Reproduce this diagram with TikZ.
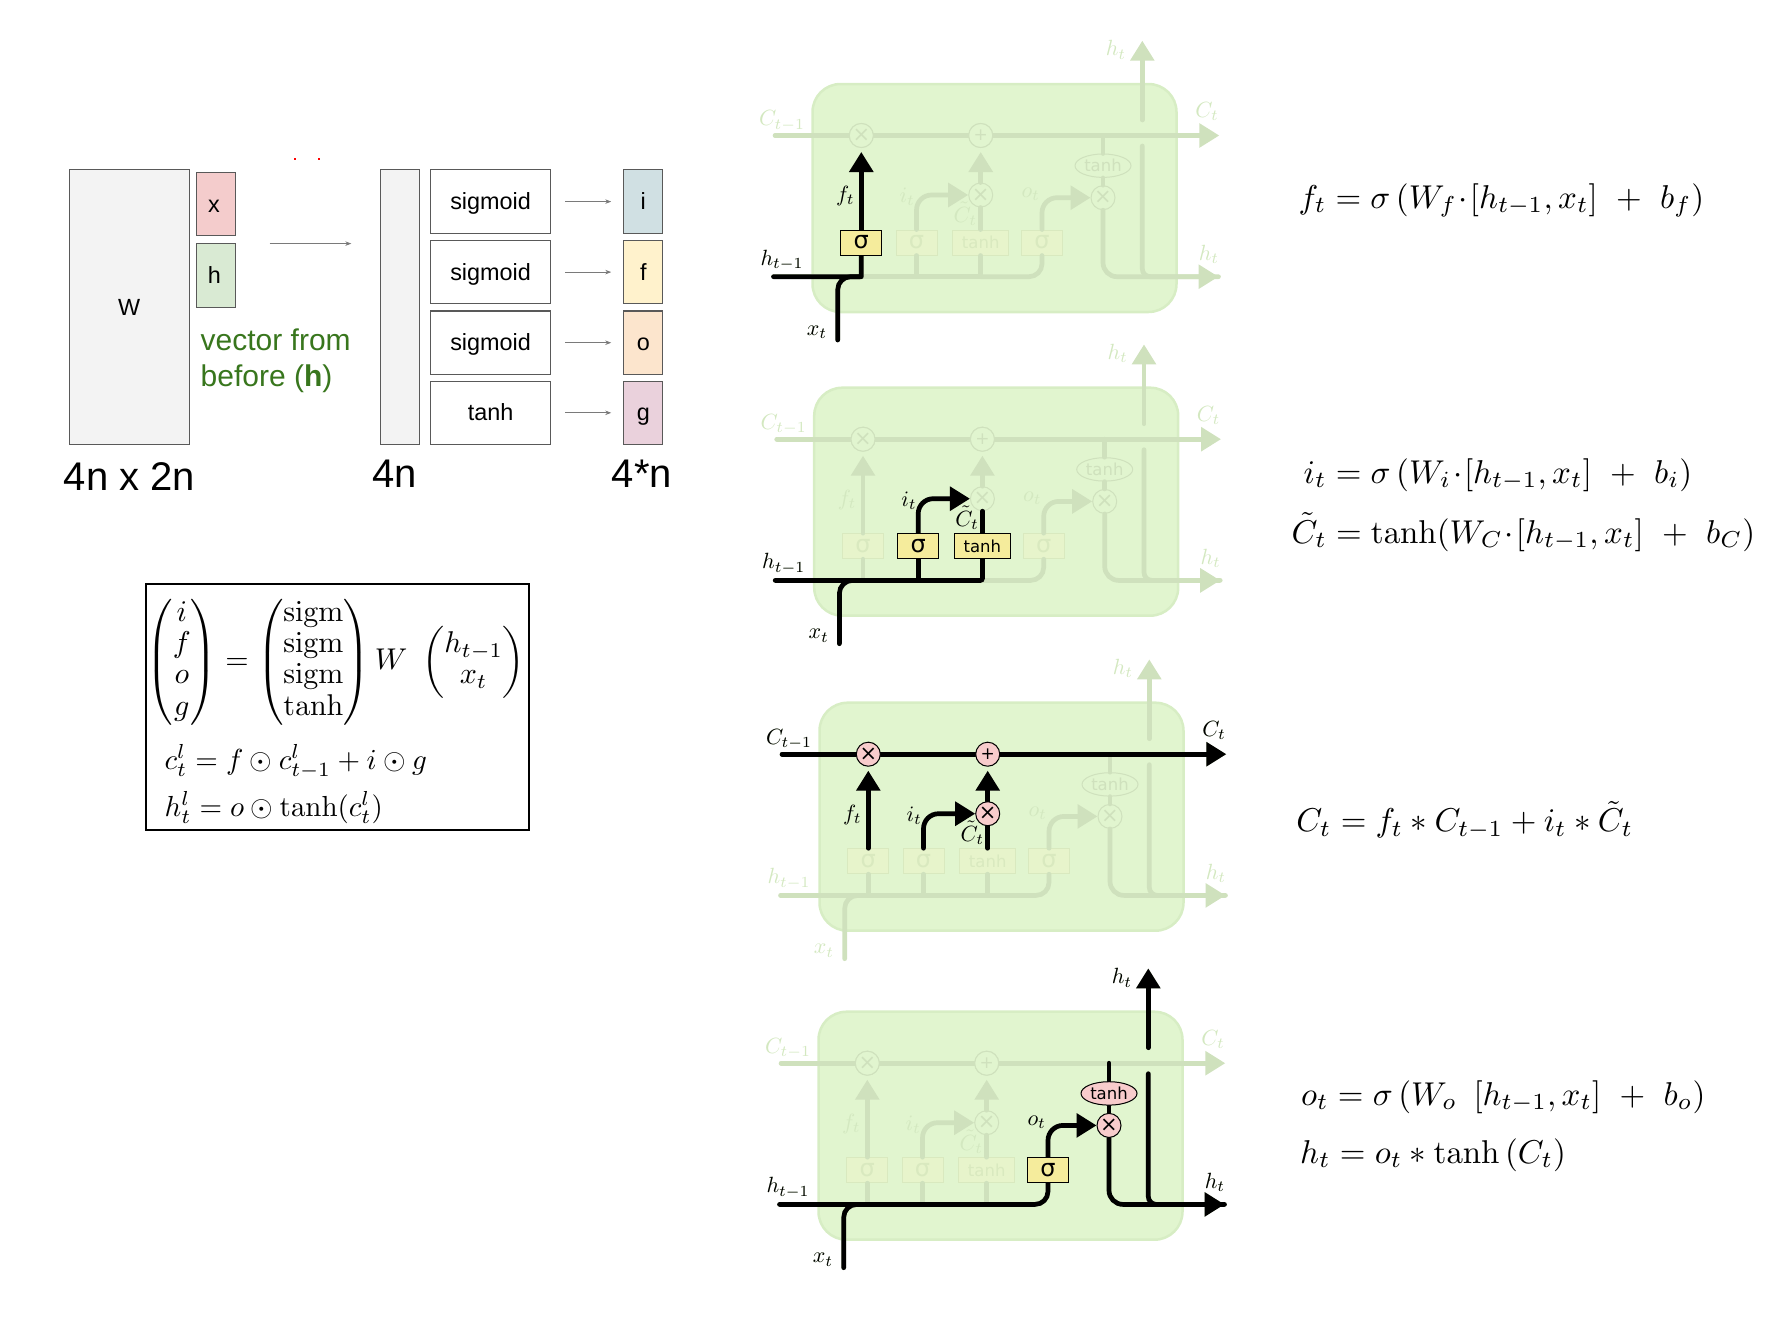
\documentclass[tikz,border=0pt]{standalone}
\usepackage[no-math]{fontspec}
\usepackage{amsmath}
\usepackage{amssymb}
\usetikzlibrary{arrows.meta,shapes.geometric}
\newfontfamily\arialf{Liberation Sans}
\newfontfamily\dejaf{DejaVu Sans}
\definecolor{pgray}{HTML}{F3F3F3}
\definecolor{pedge}{HTML}{595959}
\definecolor{cred}{HTML}{F4CCCC}
\definecolor{cgreen}{HTML}{D9EAD3}
\definecolor{cblue}{HTML}{D0E0E3}
\definecolor{cyell}{HTML}{FFF2CC}
\definecolor{corange}{HTML}{FCE5CD}
\definecolor{cpink}{HTML}{EAD1DC}
\definecolor{vgreen}{HTML}{38761D}
\definecolor{cellfill}{HTML}{E1F5CF}
\definecolor{celledge}{HTML}{D7EDC4}
\definecolor{offline}{HTML}{CFE1BD}
\definecolor{offtext}{HTML}{D3E8C0}
\definecolor{offbox}{HTML}{E7F4CB}
\definecolor{offboxedge}{HTML}{D9E9BF}
\definecolor{onbox}{HTML}{F5EC9C}
\definecolor{onball}{HTML}{F8CCCC}
\tikzset{
  cellbody/.style={draw=celledge,fill=cellfill,line width=2.5pt,rounded corners=28pt,minimum width=364pt,minimum height=228pt},
  wire/.style={line width=4.7pt,line cap=round,draw=offline},
  hot/.style={line width=4.7pt,line cap=round,draw=black},
  tip/.style={-{Triangle[length=20pt,width=23.4pt]}},
  sigfont/.style={font={\dejaf\fontsize{24}{24}\selectfont}},
  tanfont/.style={font={\dejaf\fontsize{16.5}{18}\selectfont}},
  ballfont/.style={font={\dejaf\fontsize{21}{22}\selectfont}},
  plusfont/.style={font={\dejaf\fontsize{17}{18}\selectfont}},
  ball/.style={circle,minimum size=24pt,inner sep=0pt,ballfont,draw=offline,fill=cellfill,text=offline,line width=1pt},
  ballon/.style={circle,minimum size=24pt,inner sep=0pt,ballfont,draw=black,fill=onball,text=black,line width=1pt},
  oval/.style={ellipse,minimum width=56pt,minimum height=23.4pt,inner sep=0pt,tanfont,draw=offline,fill=cellfill,text=offline,line width=1pt},
  ovalon/.style={ellipse,minimum width=56pt,minimum height=23.4pt,inner sep=0pt,tanfont,draw=black,fill=onball,text=black,line width=1pt},
  box/.style={rectangle,minimum height=25pt,inner sep=0pt,draw=offboxedge,fill=offbox,text=offboxedge,line width=1pt},
  boxon/.style={rectangle,minimum height=25pt,inner sep=0pt,draw=black,fill=onbox,text=black,line width=1pt},
  lab/.style={scale=2.2,inner sep=0pt,text=offtext},
  labon/.style={scale=2.2,inner sep=0pt,text=black},
  panel/.style={draw=pedge,line width=1.1pt,inner sep=0pt,text height=17pt,text depth=1pt,font={\arialf\fontsize{23.4}{26}\selectfont}},
  thin arrow/.style={draw=pedge!80,line width=0.8pt,-{Stealth[length=6pt,width=4.5pt]}},
  bigfont/.style={font={\arialf\fontsize{40}{42}\selectfont},inner sep=0pt},
  vecfont/.style={font={\arialf\fontsize{30}{32}\selectfont},text=vgreen,inner sep=0pt,anchor=west},
  eqn/.style={scale=3.3,inner sep=0pt,anchor=base west},
  eqm/.style={scale=2.9,inner sep=0pt,anchor=base west}
}
\newcommand{\cellbase}{
\node[cellbody] (body) at (994.5,198) {};
\coordinate (cin) at (775,135.5);
\coordinate (cout) at (1219.3,135.5);
\coordinate (hin) at (773.5,276.7);
\coordinate (hout) at (1218.5,276.7);
\coordinate (xin) at (837.7,340);
\coordinate (hup) at (1142.3,40.7);
\coordinate (ga) at (1142.3,146);
\coordinate (gb) at (1142.3,120);
\node[ball] (mf) at (861.3,135.5) {×};
\node[ball,plusfont] (pc) at (980.7,135.5) {+};
\node[ball] (mi) at (980.7,195) {×};
\node[ball] (mo) at (1103,197.7) {×};
\node[oval] (th) at (1103,165.7) {tanh};
\node[box,minimum width=41pt,sigfont] (sf) at (861.3,242.5) {σ};
\node[box,minimum width=41pt,sigfont] (si) at (916.5,242.5) {σ};
\node[box,minimum width=56.5pt,tanfont] (tc) at (980.7,242.5) {tanh};
\node[box,minimum width=41pt,sigfont] (so) at (1042,242.5) {σ};
\draw[wire] (cin) -- (mf);
\draw[wire] (mf) -- (pc);
\draw[wire,tip] (pc) -- (cout);
\node[ball] at (mf) {×};
\node[ball,plusfont] at (pc) {+};
\draw[wire] (hin) -- (tc.south |- hin);
\draw[wire,rounded corners=13pt] (tc.south |- hin) -- (so.south |- hin) -- (so.south);
\draw[wire,rounded corners=13pt] (xin) |- (sf.south |- hin);
\draw[wire] (sf.south) -- (sf.south |- hin);
\draw[wire] (si.south) -- (si.south |- hin);
\draw[wire] (tc.south) -- (tc.south |- hin);
\draw[wire,tip,shorten >=4pt] (sf.north) -- (mf.south);
\draw[wire,tip,rounded corners=15pt] (si.north) |- (mi.west);
\draw[wire] (tc.north) -- (mi.south);
\draw[wire,tip,shorten >=4pt] (mi.north) -- (pc.south);
\draw[wire,tip,rounded corners=15pt] (so.north) |- (mo.west);
\draw[wire] (th.north) -- (th.north |- cin);
\draw[wire] (th.south) -- (mo.north);
\draw[wire,tip,rounded corners=14pt] (mo.south) |- (hout);
\draw[wire,rounded corners=8pt] (ga) |- (hout);
\draw[wire,tip] (gb) -- (hup);
\node[lab] (lc) at (782,121) {$C_{t-1}$};
\node[lab] (lo) at (1207,111.5) {$C_t$};
\node[lab] (lh) at (1116,50) {$h_t$};
\node[lab] (lr) at (1209,254.7) {$h_t$};
\node[lab] (li) at (782,260) {$h_{t-1}$};
\node[lab] (lx) at (817,332) {$x_t$};
\node[lab] (lf) at (845.3,196) {$f_t$};
\node[lab] (lt) at (907.3,197) {$i_t$};
\node[lab] (lg) at (965.3,214) {$\tilde{C}_t$};
\node[lab] (lq) at (1030.7,194.3) {$o_t$};
}
\begin{document}
\begin{tikzpicture}[x=1pt,y=-1pt]
\useasboundingbox (0,0) rectangle (1776,1336);

\node[panel,fill=pgray,minimum width=120pt,minimum height=274.2pt] (W) at (129.1,307) {W};
\node[panel,fill=cred,minimum width=39.1pt,minimum height=63.5pt] (x) at (216,204) {\hspace*{-4pt}x};
\node[panel,fill=cgreen,minimum width=39.1pt,minimum height=63.5pt] (h) at (216,275.4) {\hspace*{-3pt}h};
\node[panel,fill=pgray,minimum width=38.5pt,minimum height=274.2pt] (v) at (399.9,307) {};
\foreach \n/\y/\t/\c/\l in {1/201.6/sigmoid/cblue/i,2/272.1/sigmoid/cyell/f,3/342.7/sigmoid/corange/o,4/412.8/tanh/cpink/g} {
  \node[panel,minimum width=120.1pt,minimum height=63.4pt] (s\n) at (490.6,\y) {\t};
  \node[panel,fill=\c,minimum width=39pt,minimum height=63.4pt] (r\n) at (643.3,\y) {\l};
  \draw[thin arrow,shorten <=14pt,shorten >=12pt] (s\n) -- (r\n);
}
\coordinate (ga) at (269.7,243.6);
\coordinate (gb) at (351.3,243.6);
\draw[thin arrow] (ga) -- (gb);
\fill[red] (294,157.5) rectangle (296,159.5);
\fill[red] (318,157.5) rectangle (320,159.5);
\node[vecfont] (vf) at (200.5,340) {vector from};
\node[vecfont] (vb) at (200.5,379) {before (\textbf{h})};
\node[bigfont] (d1) at (129.4,477) {4n x 2n};
\node[bigfont] (d2) at (395,474) {4n};
\node[bigfont] (d3) at (642,474) {4*n};

\node[draw=black,line width=2pt,minimum width=382.4pt,minimum height=245.3pt] (eqbox) at (337.3,707) {};
\renewcommand{\arraystretch}{0.87}
\node[eqm,scale=1.035,anchor=west] (eqa) at (146,662) {$\begin{pmatrix} i\\ f\\ o\\ g\end{pmatrix} = \begin{pmatrix}\mathrm{sigm}\\ \mathrm{sigm}\\ \mathrm{sigm}\\ \mathrm{tanh}\end{pmatrix} W\ \begin{pmatrix} h_{t-1}\\ x_t\end{pmatrix}$};
\node[eqm] (eqb) at (164,769) {$c_t^l = f\odot c_{t-1}^l + i\odot g$};
\node[eqm] (eqc) at (164,816) {$h_t^l = o\odot \tanh(c_t^l)$};

\begin{scope}[name prefix=a-]
\cellbase
\draw[hot,rounded corners=2pt] (hin) -- (sf.south |- hin) -- (sf.south);
\draw[hot,rounded corners=13pt] (xin) |- (sf.south |- hin);
\draw[hot,tip,shorten >=4pt] (sf.north) -- (mf.south);
\node[boxon,minimum width=41pt,sigfont] (sfh) at (sf) {σ};
\node[labon] at (li) {$h_{t-1}$};
\node[labon] at (lx) {$x_t$};
\node[labon] at (lf) {$f_t$};
\end{scope}

\begin{scope}[shift={(1.7,303.7)},name prefix=b-]
\cellbase
\draw[hot,rounded corners=2pt] (hin) -- (tc.south |- hin) -- (tc.south);
\draw[hot,rounded corners=13pt] (xin) |- (si.south |- hin);
\draw[hot] (si.south) -- (si.south |- hin);
\draw[hot,tip,rounded corners=15pt] (si.north) |- (mi.west);
\draw[hot] (tc.north) -- (mi.south);
\node[boxon,minimum width=41pt,sigfont] (sih) at (si) {σ};
\node[boxon,minimum width=56.5pt,tanfont] (tch) at (tc) {tanh};
\node[labon] at (li) {$h_{t-1}$};
\node[labon] at (lx) {$x_t$};
\node[labon] at (lt) {$i_t$};
\node[labon] at (lg) {$\tilde{C}_t$};
\end{scope}

\begin{scope}[shift={(7,618.7)},name prefix=c-]
\cellbase
\draw[hot] (cin) -- (mf);
\draw[hot] (mf) -- (pc);
\draw[hot,tip] (pc) -- (cout);
\draw[hot,tip,shorten >=4pt] (sf.north) -- (mf.south);
\draw[hot,tip,rounded corners=15pt] (si.north) |- (mi.west);
\draw[hot] (tc.north) -- (mi.south);
\draw[hot,tip,shorten >=4pt] (mi.north) -- (pc.south);
\node[ballon] (mfh) at (mf) {×};
\node[ballon,plusfont] (pch) at (pc) {+};
\node[ballon] (mih) at (mi) {×};
\node[labon] at (lc) {$C_{t-1}$};
\node[labon] at (lo) {$C_t$};
\node[labon] at (lf) {$f_t$};
\node[labon] at (lt) {$i_t$};
\node[labon] at (lg) {$\tilde{C}_t$};
\end{scope}

\begin{scope}[shift={(6,927.7)},name prefix=d-]
\cellbase
\draw[hot,rounded corners=13pt] (hin) -- (so.south |- hin) -- (so.south);
\draw[hot,rounded corners=13pt] (xin) |- (sf.south |- hin);
\draw[hot,tip,rounded corners=15pt] (so.north) |- (mo.west);
\draw[hot] (th.north) -- (th.north |- cin);
\draw[hot] (th.south) -- (mo.north);
\draw[hot,tip,rounded corners=14pt] (mo.south) |- (hout);
\draw[hot,rounded corners=8pt] (ga) |- (hout);
\draw[hot,tip] (gb) -- (hup);
\node[boxon,minimum width=41pt,sigfont] (soh) at (so) {σ};
\node[ovalon] (thh) at (th) {tanh};
\node[ballon] (moh) at (mo) {×};
\node[labon] at (li) {$h_{t-1}$};
\node[labon] at (lx) {$x_t$};
\node[labon] at (lq) {$o_t$};
\node[labon] at (lh) {$h_t$};
\node[labon] at (lr) {$h_t$};
\end{scope}

\node[eqn] (ef) at (1298,208) {$f_t = \sigma\left(W_f\!\cdot\![h_{t-1},x_t]\ +\ b_f\right)$};
\node[eqn] (ei) at (1303,483) {$i_t = \sigma\left(W_i\!\cdot\![h_{t-1},x_t]\ +\ b_i\right)$};
\node[eqn] (ec) at (1291,543) {$\tilde{C}_t = \tanh(W_C\!\cdot\![h_{t-1},x_t]\ +\ b_C)$};
\node[eqn] (eu) at (1295.7,831.7) {$C_t = f_t * C_{t-1} + i_t * \tilde{C}_t$};
\node[eqn] (eo) at (1300.5,1105) {$o_t = \sigma\left(W_o\ \,[h_{t-1},x_t]\ +\ b_o\right)$};
\node[eqn] (eh) at (1299.5,1163) {$h_t = o_t * \tanh\left(C_t\right)$};
\end{tikzpicture}
\end{document}
